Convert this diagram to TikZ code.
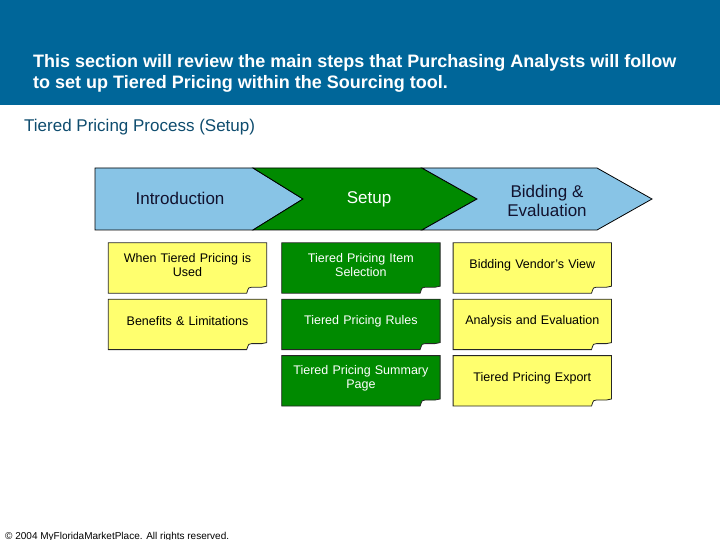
\documentclass[tikz,border=0pt]{standalone}
\usepackage{fontspec}
\setmainfont{Liberation Sans}
\usepackage{xcolor}
\usetikzlibrary{positioning,backgrounds}
\definecolor{bannerblue}{HTML}{006699}
\definecolor{headblue}{HTML}{0E4C6E}
\definecolor{stepblue}{HTML}{88C4E6}
\definecolor{stepgreen}{HTML}{008A00}
\definecolor{noteyellow}{HTML}{FFFF6E}
\definecolor{inkdark}{HTML}{12122E}

\begin{document}
\begin{tikzpicture}[x=1pt, y=-1pt,
  stepshape/.style={draw=black, line width=0.8pt, line join=miter},
  steptext/.style={font=\fontsize{17}{19}\selectfont, text=inkdark, align=center, inner sep=0pt},
  card/.style={minimum width=158pt, minimum height=50pt, text width=150pt, align=center,
               inner sep=0pt, font=\fontsize{12.5}{14}\selectfont},
  ycard/.style={card, text=black},
  gcard/.style={card, text=white},
  cardline/.style={draw=black!85, line width=0.8pt}
]
  \useasboundingbox (0,0) rectangle (720,540);
  % banner
  \fill[bannerblue] (0,0) rectangle (720,105);
  \node[anchor=north west, text=white, align=left, inner sep=0pt,
        font=\bfseries\fontsize{18}{21}\selectfont] (intro-line) at (33,54)
    {This section will review the main steps that Purchasing Analysts will follow\\
     to set up Tiered Pricing within the Sourcing tool.};
  \node[anchor=west, text=headblue, inner sep=0pt, font=\fontsize{17}{19}\selectfont]
    (heading) at (24,127) {Tiered Pricing Process (Setup)};

  % process chevrons
  \draw[stepshape, fill=stepblue]  (95,168) -- (253,168) -- (303,199) -- (253,230) -- (95,230) -- cycle;
  \draw[stepshape, fill=stepgreen] (253,168) -- (422,168) -- (477,199) -- (422,230) -- (253,230) -- (303,199) -- cycle;
  \draw[stepshape, fill=stepblue]  (422,168) -- (597,168) -- (652,199) -- (597,230) -- (422,230) -- (477,199) -- cycle;
  \node[steptext] (intro) at (180,198) {Introduction};
  \node[steptext, text=white] (setup) at (369,199) {Setup};
  \node[steptext] (bidding) at (547,201) {Bidding \&\\Evaluation};

  % note cards
  \node[ycard] (used) at (187.5,265) {When Tiered Pricing is\\Used};
  \node[ycard, below=6pt of used] (benefits) {Benefits \& Limitations};
  \node[gcard, right=15pt of used] (itemsel) {Tiered Pricing Item\\Selection};
  \node[gcard, below=6pt of itemsel] (rules) {Tiered Pricing Rules};
  \node[gcard, below=6pt of rules] (summary) {Tiered Pricing Summary\\Page};
  \node[ycard, right=13pt of itemsel] (vendor) {Bidding Vendor's View};
  \node[ycard, below=6pt of vendor] (analysis) {Analysis and Evaluation};
  \node[ycard, below=6pt of analysis] (export) {Tiered Pricing Export};

  \begin{scope}[on background layer]
    \foreach \n/\c in {used/noteyellow, benefits/noteyellow, itemsel/stepgreen, rules/stepgreen,
                       summary/stepgreen, vendor/noteyellow, analysis/noteyellow, export/noteyellow}
      \draw[cardline, fill=\c]
        ([yshift=-3pt]\n.north west) -- ([yshift=-3pt]\n.north east)
        -- ([yshift=4pt]\n.south east)
        .. controls ([xshift=-2pt,yshift=3pt]\n.south east) .. ([xshift=-5pt,yshift=3pt]\n.south east)
        -- ([xshift=-15pt,yshift=3pt]\n.south east)
        .. controls ([xshift=-18pt,yshift=3pt]\n.south east) .. ([xshift=-20pt,yshift=-3pt]\n.south east)
        -- ([yshift=-3pt]\n.south west) -- cycle;
  \end{scope}

  % footer
  \node[anchor=base west, inner sep=0pt, font=\fontsize{10}{11}\selectfont] (footer) at (5,539)
    {\textcopyright{} 2004 MyFloridaMarketPlace. All rights reserved.};
\end{tikzpicture}
\end{document}
